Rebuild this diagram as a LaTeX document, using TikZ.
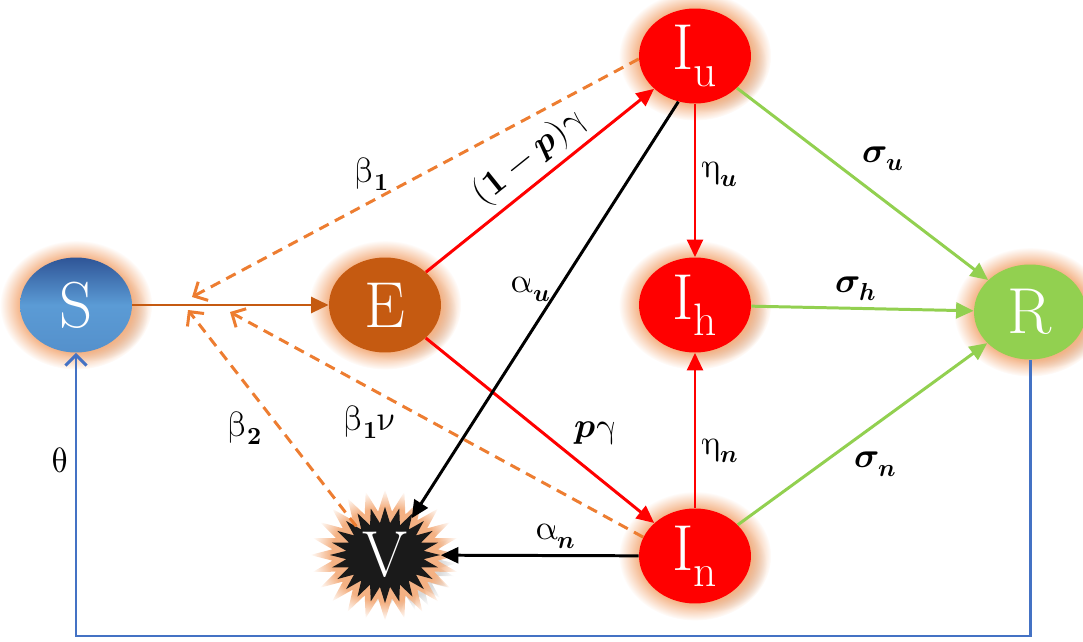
\documentclass[tikz,border=0pt]{standalone}
\usepackage{unicode-math}
\setmathfont{Latin Modern Math}
\usetikzlibrary{arrows.meta,shapes.geometric,shapes.symbols,shadows,fadings}

\definecolor{sdark}{HTML}{2F5597}
\definecolor{sblue}{HTML}{5B9BD5}
\definecolor{ebrown}{HTML}{C55A11}
\definecolor{infcol}{HTML}{ED7D31}
\definecolor{rgreen}{HTML}{92D050}
\definecolor{loopblue}{HTML}{4472C4}
\definecolor{glowc}{HTML}{F4B183}
\definecolor{vblack}{HTML}{1A1A1A}

% soft halo round the compartments
\pgfdeclareradialshading{softglowshade}{\pgfpointorigin}{%
    color(0bp)=(pgftransparent!0); color(18bp)=(pgftransparent!0);
    color(25bp)=(pgftransparent!100); color(50bp)=(pgftransparent!100)}
\pgfdeclarefading{softglow}{\pgfuseshading{softglowshade}}

\begin{document}
\begin{tikzpicture}[x=0.02cm, y=-0.02cm,
    comp/.style={ellipse, minimum width=2.24cm, minimum height=1.9cm, inner sep=0pt,
        text=white, font=\fontsize{37}{42}\selectfont,
        general shadow={fill=gray, opacity=0.3, shadow xshift=9pt, shadow yshift=-5pt,
            shadow scale=1.0, path fading=softglow},
        general shadow={fill=glowc, shadow scale=1.36, path fading=softglow}},
    lbl/.style={font=\fontsize{20}{24}\selectfont, text=black},
    flow/.style={line width=1.7pt, -{Triangle[length=10pt, width=9pt]}},
    inf/.style={line width=1.7pt, draw=infcol, dash pattern=on 6pt off 4pt,
        -{Straight Barb[length=6pt, width=12pt]}}]

    \useasboundingbox (0,0) rectangle (1083,642);

    % --- Compartments ---
    \node[comp, top color=sdark, bottom color=sblue!85!sdark, middle color=sblue] (S) at (76,305) {S};
    \node[comp, fill=ebrown] (E) at (385,305) {E};
    \node[comp, fill=red] (Iu) at (695,56) {I$_{\mathrm{u}}$};
    \node[comp, fill=red] (Ih) at (695,305) {I$_{\mathrm{h}}$};
    \node[comp, fill=red] (In) at (695,556) {I$_{\mathrm{n}}$};
    \node[comp, fill=rgreen] (R) at (1030,312) {R};
    \node[comp, starburst, fill=vblack, starburst points=24, starburst point height=0.32cm,
        random starburst=0, minimum width=2.2cm, minimum height=1.9cm] (V) at (385,555) {V};

    % free ends of the infection arrows
    \coordinate (tipA) at (192,297);
    \coordinate (tipB) at (188,310);
    \coordinate (tipC) at (230,312);
    \coordinate (loopY) at (0,636);

    % --- Connectors ---
    \draw[flow, draw=ebrown] (S) -- (E);

    % infection (dashed)
    \draw[inf] (Iu.183) -- (tipA);
    \draw[inf] (V.135) -- (tipB);
    \draw[inf] (In.160) -- (tipC);
    \node[lbl] (b1) at (372,174) {$\symup{\beta}_{\symbf{1}}$};
    \node[lbl] (b2) at (245,428) {$\symup{\beta}_{\symbf{2}}$};
    \node[lbl] (b1v) at (370,422) {$\symup{\beta}_{\symbf{1}}\symup{\nu}$};

    % progression
    \draw[flow, red] (E) -- node[lbl, sloped, above, pos=0.52] {$(\symbf{1}-\symbfit{p})\symup{\gamma}$} (Iu);
    \draw[flow, red] (E) -- node[lbl, pos=0.62, above right] {$\symbfit{p}\symup{\gamma}$} (In);
    \draw[flow, red] (Iu) -- node[lbl, pos=0.46, right] {$\symup{\eta}_{\symbfit{u}}$} (Ih);
    \draw[flow, red] (In) -- node[lbl, pos=0.37, right] {$\symup{\eta}_{\symbfit{n}}$} (Ih);

    % to V
    \draw[flow, black] (Iu.250) -- node[lbl, pos=0.45, left] {$\symup{\alpha}_{\symbfit{u}}$} (V.54);
    \draw[flow, black] (In) -- node[lbl, pos=0.42, above] {$\symup{\alpha}_{\symbfit{n}}$} (V);

    % recovery
    \draw[flow, rgreen] (Iu) -- node[lbl, pos=0.47, above right] {$\symbfit{\sigma}_{\symbfit{u}}$} (R);
    \draw[flow, rgreen] (Ih) -- node[lbl, pos=0.47, above] {$\symbfit{\sigma}_{\symbfit{h}}$} (R);
    \draw[flow, rgreen] (In) -- node[lbl, pos=0.44, below right] {$\symbfit{\sigma}_{\symbfit{n}}$} (R);

    % loss of immunity
    \draw[line width=1.7pt, loopblue, -{Straight Barb[length=6pt, width=12pt]}]
        (R.south) -- (R.south |- loopY) -- (S.south |- loopY)
        -- node[lbl, pos=0.62, left] {$\symup{\theta}$} (S.south);

\end{tikzpicture}
\end{document}
